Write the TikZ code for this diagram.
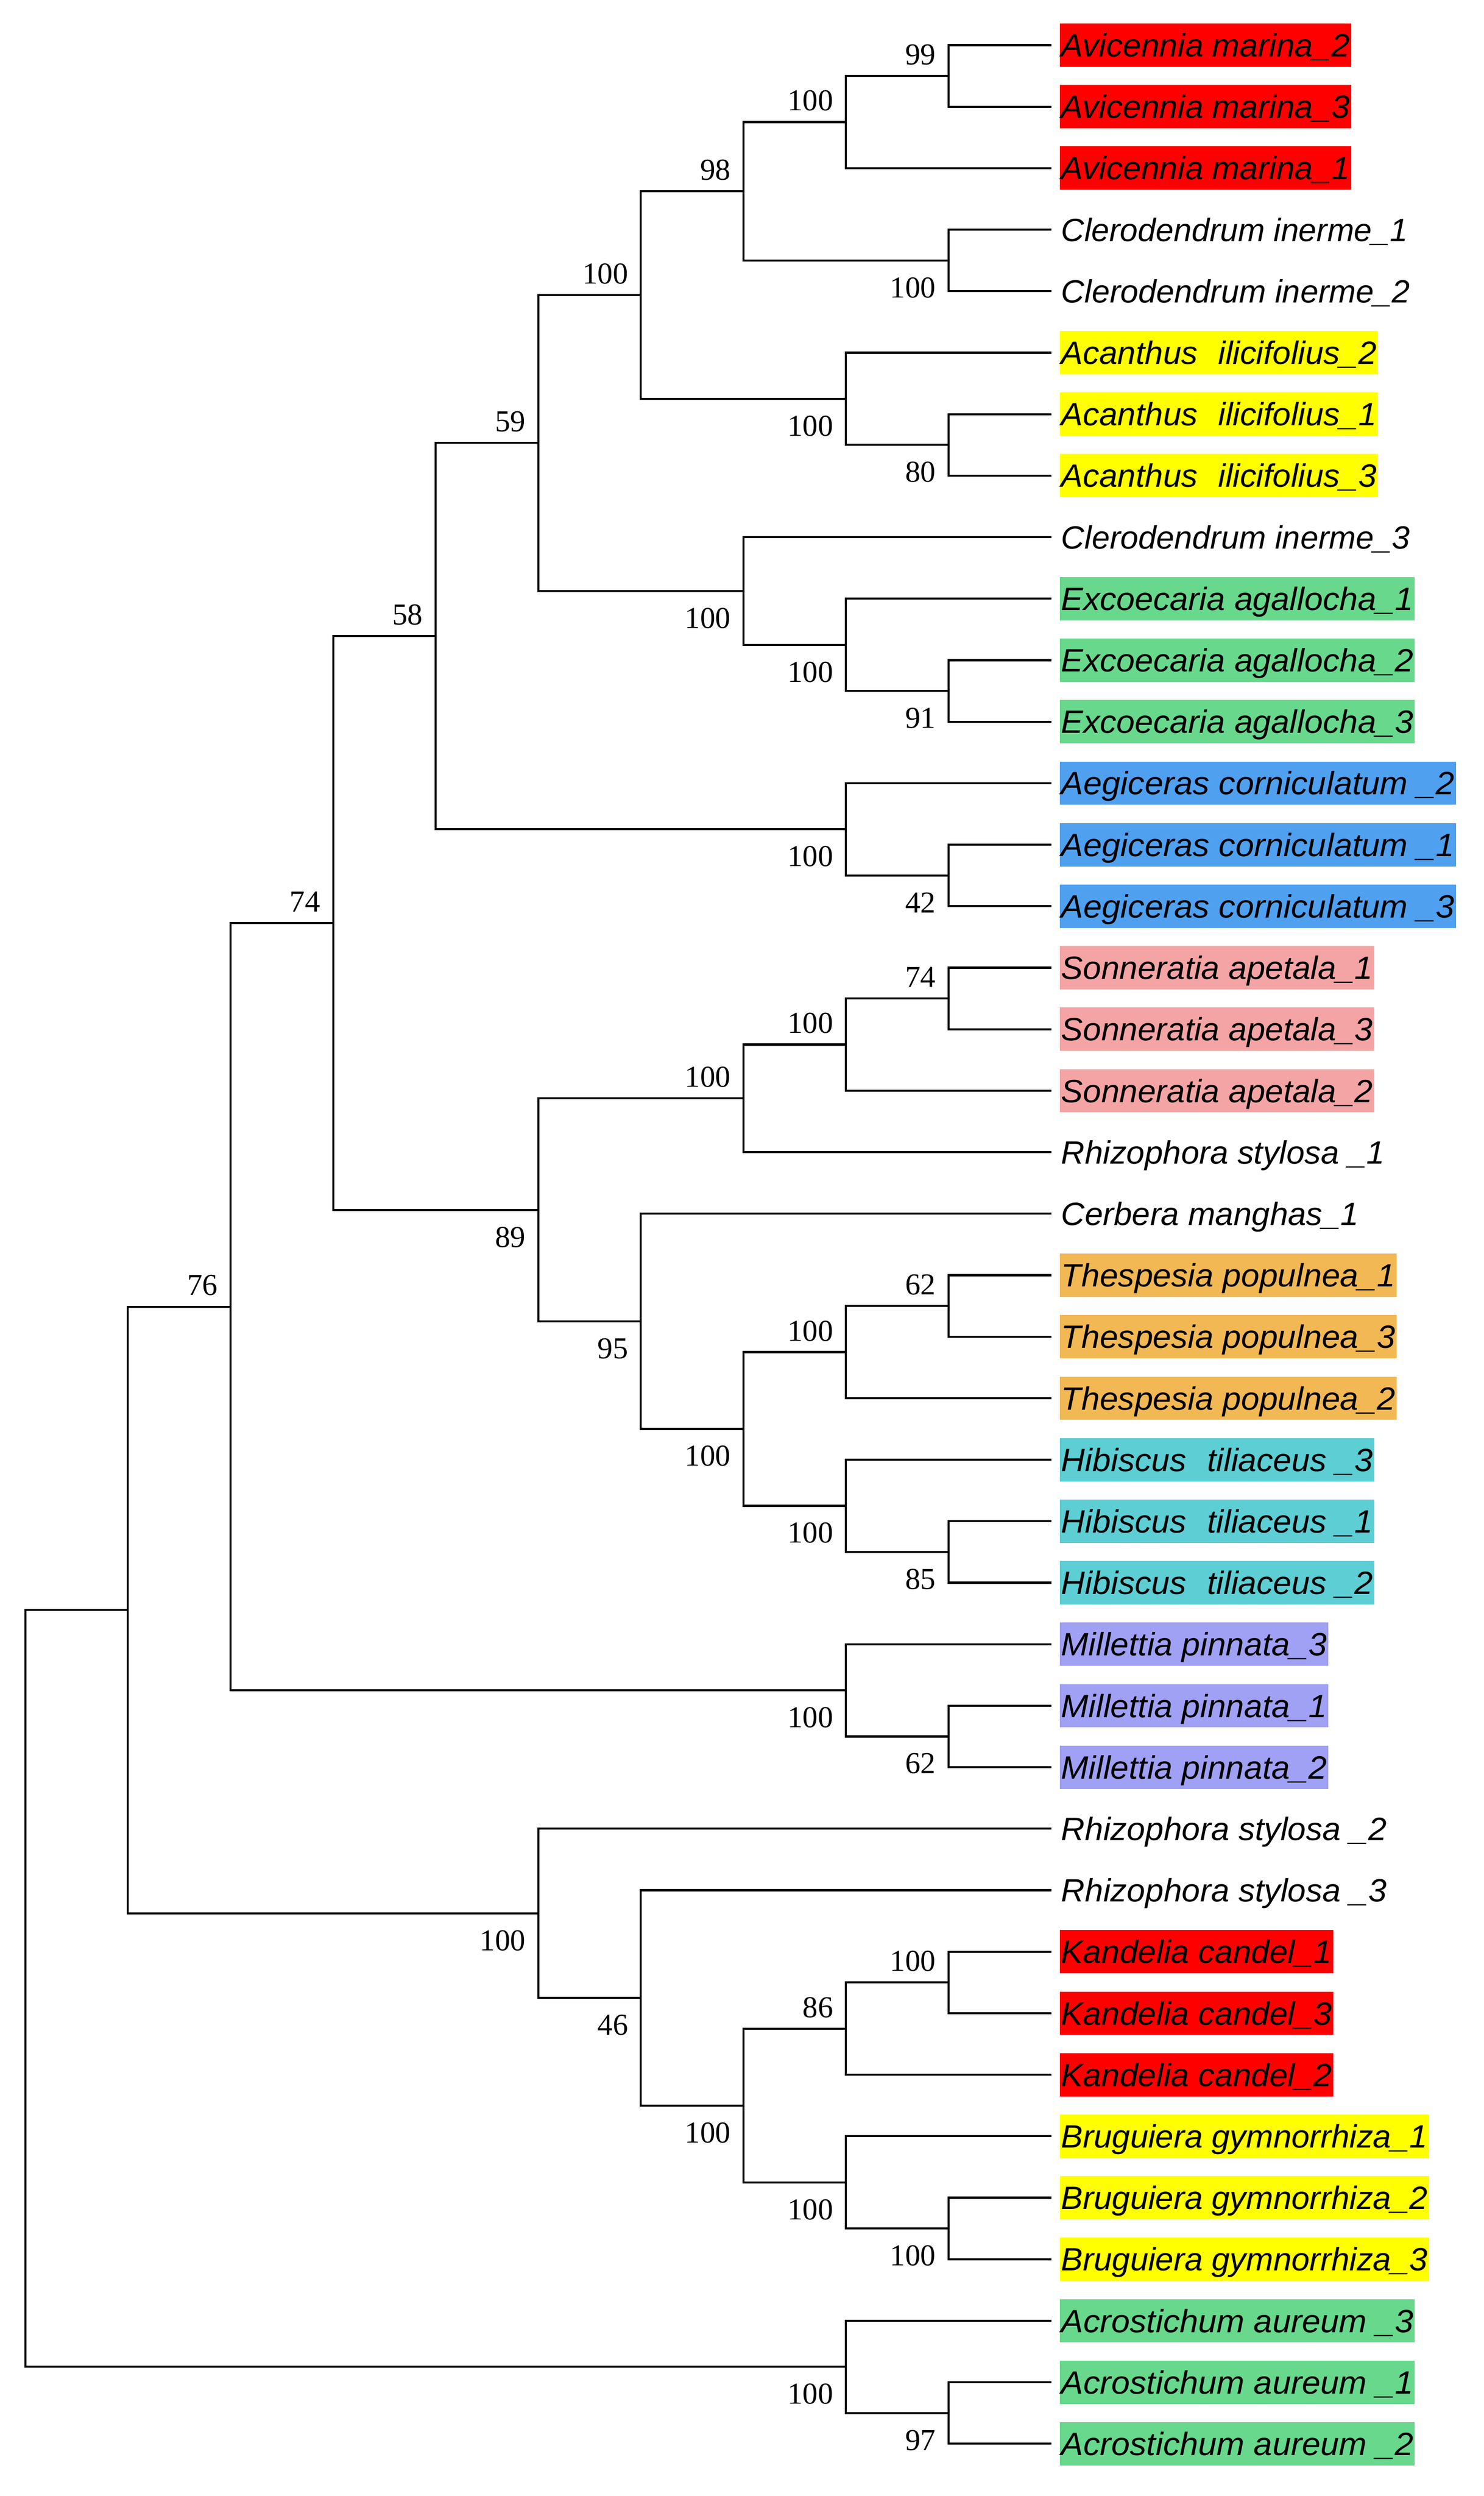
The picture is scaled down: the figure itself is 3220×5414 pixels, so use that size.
\documentclass[tikz,border=0pt]{standalone}
\usepackage{fontspec}
\usepackage{graphicx}
\newfontfamily\leaffont{Liberation Sans}
\newfontfamily\numfont{Liberation Serif}
\definecolor{cRed}{RGB}{255,0,0}
\definecolor{cYel}{RGB}{255,255,0}
\definecolor{cGrn}{RGB}{104,216,140}
\definecolor{cBlu}{RGB}{80,160,240}
\definecolor{cPnk}{RGB}{244,164,164}
\definecolor{cOrg}{RGB}{242,184,84}
\definecolor{cCyn}{RGB}{92,206,212}
\definecolor{cLav}{RGB}{160,160,245}
\newcommand{\lab}[2]{\resizebox{#1pt}{\height}{#2}}
\begin{document}
\begin{tikzpicture}[x=0.25pt,y=-0.25pt,
  leaf/.style={anchor=west, inner xsep=0.75pt, inner ysep=0pt, outer xsep=4.75pt, outer ysep=0pt,
    text height=18pt, text depth=5.5pt, font={\leaffont\itshape\fontsize{17.5pt}{21pt}\selectfont}},
  br/.style={draw=black, line width=1.1pt, line join=miter},
  bsv/.style={anchor=east, inner sep=0pt, xshift=-6.75pt, font={\numfont\fontsize{16.5pt}{19pt}\selectfont}},
  bsa/.style={bsv, yshift=11.5pt},
  bsb/.style={bsv, yshift=-14.75pt}]
\fill[white] (0,0) rectangle (3220,5414);
\useasboundingbox (0,0) rectangle (3220,5414);
% leaves
\node[leaf, fill=cRed] (l0) at (2281, 98+133.4*0) {\lab{156.5}{Avicennia marina\_2}};
\node[leaf, fill=cRed] (l1) at (2281, 98+133.4*1) {\lab{156.5}{Avicennia marina\_3}};
\node[leaf, fill=cRed] (l2) at (2281, 98+133.4*2) {\lab{156.5}{Avicennia marina\_1}};
\node[leaf] (l3) at (2281, 98+133.4*3) {\lab{188}{Clerodendrum inerme\_1}};
\node[leaf] (l4) at (2281, 98+133.4*4) {\lab{189.25}{Clerodendrum inerme\_2}};
\node[leaf, fill=cYel] (l5) at (2281, 98+133.4*5) {\lab{171}{Acanthus\hspace{0.35em} ilicifolius\_2}};
\node[leaf, fill=cYel] (l6) at (2281, 98+133.4*6) {\lab{171}{Acanthus\hspace{0.35em} ilicifolius\_1}};
\node[leaf, fill=cYel] (l7) at (2281, 98+133.4*7) {\lab{171}{Acanthus\hspace{0.35em} ilicifolius\_3}};
\node[leaf] (l8) at (2281, 98+133.4*8) {\lab{189.25}{Clerodendrum inerme\_3}};
\node[leaf, fill=cGrn] (l9) at (2281, 98+133.4*9) {\lab{191}{Excoecaria agallocha\_1}};
\node[leaf, fill=cGrn] (l10) at (2281, 98+133.4*10) {\lab{191}{Excoecaria agallocha\_2}};
\node[leaf, fill=cGrn] (l11) at (2281, 98+133.4*11) {\lab{191}{Excoecaria agallocha\_3}};
\node[leaf, fill=cBlu] (l12) at (2281, 98+133.4*12) {\lab{213.25}{Aegiceras corniculatum \_2}};
\node[leaf, fill=cBlu] (l13) at (2281, 98+133.4*13) {\lab{213.25}{Aegiceras corniculatum \_1}};
\node[leaf, fill=cBlu] (l14) at (2281, 98+133.4*14) {\lab{213.25}{Aegiceras corniculatum \_3}};
\node[leaf, fill=cPnk] (l15) at (2281, 98+133.4*15) {\lab{169}{Sonneratia apetala\_1}};
\node[leaf, fill=cPnk] (l16) at (2281, 98+133.4*16) {\lab{169}{Sonneratia apetala\_3}};
\node[leaf, fill=cPnk] (l17) at (2281, 98+133.4*17) {\lab{169}{Sonneratia apetala\_2}};
\node[leaf] (l18) at (2281, 98+133.4*18) {\lab{175.5}{Rhizophora stylosa \_1}};
\node[leaf] (l19) at (2281, 98+133.4*19) {\lab{161.5}{Cerbera manghas\_1}};
\node[leaf, fill=cOrg] (l20) at (2281, 98+133.4*20) {\lab{181.25}{Thespesia populnea\_1}};
\node[leaf, fill=cOrg] (l21) at (2281, 98+133.4*21) {\lab{181.25}{Thespesia populnea\_3}};
\node[leaf, fill=cOrg] (l22) at (2281, 98+133.4*22) {\lab{181.25}{Thespesia populnea\_2}};
\node[leaf, fill=cCyn] (l23) at (2281, 98+133.4*23) {\lab{169}{Hibiscus\hspace{0.35em} tiliaceus \_3}};
\node[leaf, fill=cCyn] (l24) at (2281, 98+133.4*24) {\lab{169}{Hibiscus\hspace{0.35em} tiliaceus \_1}};
\node[leaf, fill=cCyn] (l25) at (2281, 98+133.4*25) {\lab{169}{Hibiscus\hspace{0.35em} tiliaceus \_2}};
\node[leaf, fill=cLav] (l26) at (2281, 98+133.4*26) {\lab{144}{Millettia pinnata\_3}};
\node[leaf, fill=cLav] (l27) at (2281, 98+133.4*27) {\lab{144}{Millettia pinnata\_1}};
\node[leaf, fill=cLav] (l28) at (2281, 98+133.4*28) {\lab{144}{Millettia pinnata\_2}};
\node[leaf] (l29) at (2281, 98+133.4*29) {\lab{176.5}{Rhizophora stylosa \_2}};
\node[leaf] (l30) at (2281, 98+133.4*30) {\lab{176.5}{Rhizophora stylosa \_3}};
\node[leaf, fill=cRed] (l31) at (2281, 98+133.4*31) {\lab{146.75}{Kandelia candel\_1}};
\node[leaf, fill=cRed] (l32) at (2281, 98+133.4*32) {\lab{146.75}{Kandelia candel\_3}};
\node[leaf, fill=cRed] (l33) at (2281, 98+133.4*33) {\lab{146.75}{Kandelia candel\_2}};
\node[leaf, fill=cYel] (l34) at (2281, 98+133.4*34) {\lab{198.75}{Bruguiera gymnorrhiza\_1}};
\node[leaf, fill=cYel] (l35) at (2281, 98+133.4*35) {\lab{198.75}{Bruguiera gymnorrhiza\_2}};
\node[leaf, fill=cYel] (l36) at (2281, 98+133.4*36) {\lab{198.75}{Bruguiera gymnorrhiza\_3}};
\node[leaf, fill=cGrn] (l37) at (2281, 98+133.4*37) {\lab{191}{Acrostichum aureum \_3}};
\node[leaf, fill=cGrn] (l38) at (2281, 98+133.4*38) {\lab{191}{Acrostichum aureum \_1}};
\node[leaf, fill=cGrn] (l39) at (2281, 98+133.4*39) {\lab{191}{Acrostichum aureum \_2}};
% internal nodes
\coordinate (na)  at (55+222.6*9, 98+133.4*0.5);
\coordinate (nb)  at (55+222.6*8, 98+133.4*1.25);
\coordinate (nc)  at (55+222.6*9, 98+133.4*3.5);
\coordinate (nd)  at (55+222.6*7, 98+133.4*2.375);
\coordinate (ne)  at (55+222.6*9, 98+133.4*6.5);
\coordinate (nf)  at (55+222.6*8, 98+133.4*5.75);
\coordinate (ng)  at (55+222.6*6, 98+133.4*4.0625);
\coordinate (nh)  at (55+222.6*9, 98+133.4*10.5);
\coordinate (ni)  at (55+222.6*8, 98+133.4*9.75);
\coordinate (nj)  at (55+222.6*7, 98+133.4*8.875);
\coordinate (nk)  at (55+222.6*5, 98+133.4*6.46875);
\coordinate (nl)  at (55+222.6*9, 98+133.4*13.5);
\coordinate (nm)  at (55+222.6*8, 98+133.4*12.75);
\coordinate (nn)  at (55+222.6*4, 98+133.4*9.609375);
\coordinate (no)  at (55+222.6*9, 98+133.4*15.5);
\coordinate (np)  at (55+222.6*8, 98+133.4*16.25);
\coordinate (nq)  at (55+222.6*7, 98+133.4*17.125);
\coordinate (nr)  at (55+222.6*9, 98+133.4*20.5);
\coordinate (ns)  at (55+222.6*8, 98+133.4*21.25);
\coordinate (nt)  at (55+222.6*9, 98+133.4*24.5);
\coordinate (nu)  at (55+222.6*8, 98+133.4*23.75);
\coordinate (nv)  at (55+222.6*7, 98+133.4*22.5);
\coordinate (nw)  at (55+222.6*6, 98+133.4*20.75);
\coordinate (nx)  at (55+222.6*5, 98+133.4*18.9375);
\coordinate (ny)  at (55+222.6*3, 98+133.4*14.2734);
\coordinate (nz)  at (55+222.6*9, 98+133.4*27.5);
\coordinate (naa) at (55+222.6*8, 98+133.4*26.75);
\coordinate (nab) at (55+222.6*2, 98+133.4*20.5117);
\coordinate (nac) at (55+222.6*9, 98+133.4*31.5);
\coordinate (nad) at (55+222.6*8, 98+133.4*32.25);
\coordinate (nae) at (55+222.6*9, 98+133.4*35.5);
\coordinate (naf) at (55+222.6*8, 98+133.4*34.75);
\coordinate (nag) at (55+222.6*7, 98+133.4*33.5);
\coordinate (nah) at (55+222.6*6, 98+133.4*31.75);
\coordinate (nai) at (55+222.6*5, 98+133.4*30.375);
\coordinate (naj) at (55+222.6*1, 98+133.4*25.4434);
\coordinate (nak) at (55+222.6*9, 98+133.4*38.5);
\coordinate (nal) at (55+222.6*8, 98+133.4*37.75);
\coordinate (root) at (55, 98+133.4*31.5967);
% branches
\draw[br] (l0.west) -| (na) |- (l1.west);
\draw[br] (na) -| (nb) |- (l2.west);
\draw[br] (l3.west) -| (nc) |- (l4.west);
\draw[br] (nb) -| (nd) |- (nc);
\draw[br] (l6.west) -| (ne) |- (l7.west);
\draw[br] (l5.west) -| (nf) |- (ne);
\draw[br] (nd) -| (ng) |- (nf);
\draw[br] (l10.west) -| (nh) |- (l11.west);
\draw[br] (l9.west) -| (ni) |- (nh);
\draw[br] (l8.west) -| (nj) |- (ni);
\draw[br] (ng) -| (nk) |- (nj);
\draw[br] (l13.west) -| (nl) |- (l14.west);
\draw[br] (l12.west) -| (nm) |- (nl);
\draw[br] (nk) -| (nn) |- (nm);
\draw[br] (l15.west) -| (no) |- (l16.west);
\draw[br] (no) -| (np) |- (l17.west);
\draw[br] (np) -| (nq) |- (l18.west);
\draw[br] (l20.west) -| (nr) |- (l21.west);
\draw[br] (nr) -| (ns) |- (l22.west);
\draw[br] (l24.west) -| (nt) |- (l25.west);
\draw[br] (l23.west) -| (nu) |- (nt);
\draw[br] (ns) -| (nv) |- (nu);
\draw[br] (l19.west) -| (nw) |- (nv);
\draw[br] (nq) -| (nx) |- (nw);
\draw[br] (nn) -| (ny) |- (nx);
\draw[br] (l27.west) -| (nz) |- (l28.west);
\draw[br] (l26.west) -| (naa) |- (nz);
\draw[br] (ny) -| (nab) |- (naa);
\draw[br] (l31.west) -| (nac) |- (l32.west);
\draw[br] (nac) -| (nad) |- (l33.west);
\draw[br] (l35.west) -| (nae) |- (l36.west);
\draw[br] (l34.west) -| (naf) |- (nae);
\draw[br] (nad) -| (nag) |- (naf);
\draw[br] (l30.west) -| (nah) |- (nag);
\draw[br] (l29.west) -| (nai) |- (nah);
\draw[br] (nab) -| (naj) |- (nai);
\draw[br] (l38.west) -| (nak) |- (l39.west);
\draw[br] (l37.west) -| (nal) |- (nak);
\draw[br] (naj) -| (root) |- (nal);
% bootstrap values
\node[bsa] (bna) at (na) {99};
\node[bsa] (bnb) at (nb) {100};
\node[bsb] (bnc) at (nc) {100};
\node[bsa] (bnd) at (nd) {98};
\node[bsb] (bne) at (ne) {80};
\node[bsb] (bnf) at (nf) {100};
\node[bsa] (bng) at (ng) {100};
\node[bsb] (bnh) at (nh) {91};
\node[bsb] (bni) at (ni) {100};
\node[bsb] (bnj) at (nj) {100};
\node[bsa] (bnk) at (nk) {59};
\node[bsb] (bnl) at (nl) {42};
\node[bsb] (bnm) at (nm) {100};
\node[bsa] (bnn) at (nn) {58};
\node[bsa] (bno) at (no) {74};
\node[bsa] (bnp) at (np) {100};
\node[bsa] (bnq) at (nq) {100};
\node[bsa] (bnr) at (nr) {62};
\node[bsa] (bns) at (ns) {100};
\node[bsb] (bnt) at (nt) {85};
\node[bsb] (bnu) at (nu) {100};
\node[bsb] (bnv) at (nv) {100};
\node[bsb] (bnw) at (nw) {95};
\node[bsb] (bnx) at (nx) {89};
\node[bsa] (bny) at (ny) {74};
\node[bsb] (bnz) at (nz) {62};
\node[bsb] (bnaa) at (naa) {100};
\node[bsa] (bnab) at (nab) {76};
\node[bsa] (bnac) at (nac) {100};
\node[bsa] (bnad) at (nad) {86};
\node[bsb] (bnae) at (nae) {100};
\node[bsb] (bnaf) at (naf) {100};
\node[bsb] (bnag) at (nag) {100};
\node[bsb] (bnah) at (nah) {46};
\node[bsb] (bnai) at (nai) {100};
\node[bsb] (bnak) at (nak) {97};
\node[bsb] (bnal) at (nal) {100};
\end{tikzpicture}
\end{document}
